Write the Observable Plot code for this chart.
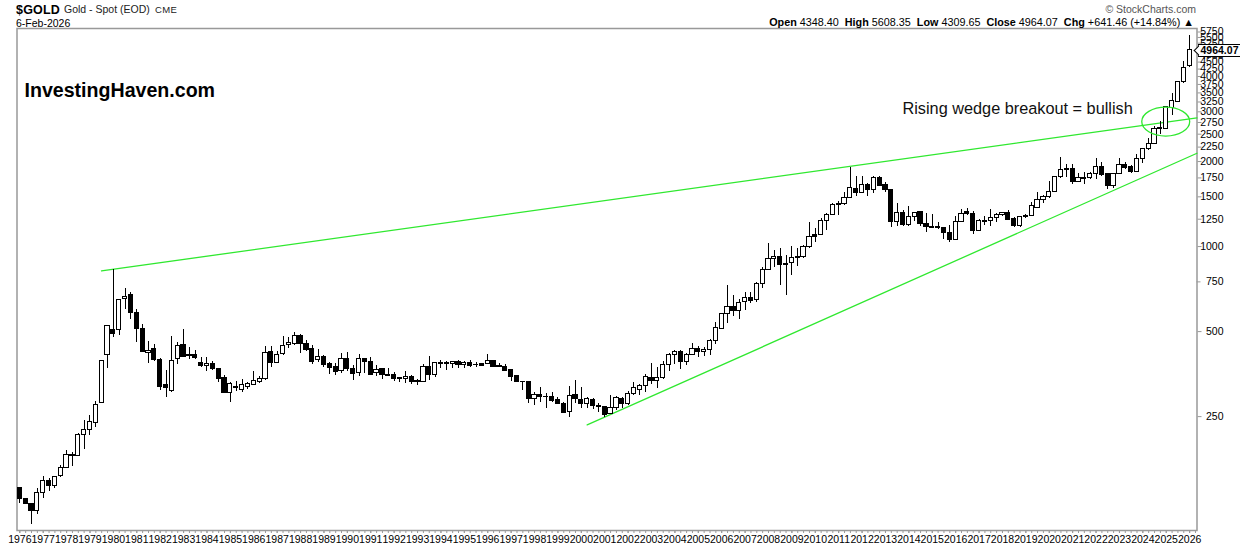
<!DOCTYPE html>
<html>
<head>
<meta charset="utf-8">
<script src="https://cdn.jsdelivr.net/npm/d3@7"></script>
<script src="https://cdn.jsdelivr.net/npm/@observablehq/plot@0.6"></script>
<style>
html,body{margin:0;padding:0;background:#fff;}
#wrap{position:relative;width:1240px;height:546px;overflow:hidden;font-family:"Liberation Sans",Arial,sans-serif;color:#000;}
#wrap svg{position:absolute;left:0;top:0;}
.h{position:absolute;white-space:nowrap;line-height:12px;}
#flag{position:absolute;z-index:1;left:1198px;width:41px;height:11px;line-height:11px;border:1px solid #000;background:#fff;font-size:10.5px;font-weight:bold;text-align:center;}
#flag:before{content:"";position:absolute;z-index:-1;left:-4px;top:2px;width:6px;height:6px;background:#fff;border-left:1px solid #000;border-bottom:1px solid #000;transform:rotate(45deg);}
</style>
</head>
<body>
<div id="wrap"></div>
<script>
const tickerSymbol = "$GOLD";
const opens = [
139.8,127.7,122.6,115.5,134.2,147.9,141.7,153.7,164.5,183.3,
182,215.4,224.3,237.5,279.5,412.4,507,507,652,674.5,
582,512.7,420,434,397,323.8,308.3,400.7,448.7,413.6,
413.6,387,378,384,369,342.7,304,318.5,309.5,319.3,
323,332,339.5,423.7,386,415.6,448.7,452,482.5,452,
434,395.7,406.9,384,376,361.8,400.7,369,356.6,400.7,
391.5,356,369,351,352,342.7,339.5,346.4,335,332.6,
376,350,387,385.8,384,391.5,381.4,388.4,381.7,384.5,
383,393.8,378,375.9,365.9,348.4,332.3,332,287.5,299,
294.3,294.3,287,278,259,297.3,287,277.5,287,273.5,
271.2,256.2,268.4,289.6,276.3,301.6,310,321,342.7,333.5,
342.7,381,412.4,423.7,390.5,413.6,434,422.5,431,463,
512.7,577.7,613,590,635,659,645,738.8,827,903,
917,868,873,922,920,998,1103,1100,1232,1295,
1416,1416,1490,1604,1552,1658,1590,1750,1658,1590,
1223,1317,1190,1274,1322,1206,1174,1171,1164,1118,
1053,1223,1322,1306,1135,1236,1232,1263,1295,1317,
1250,1180,1284,1284,1373,1462,1498,1556,1766,1889,
1889,1690,1749,1742,1810,1920,1800,1640,1810,1946,
1908,1830,2045,2222,2315,2615,2610,3097,3262,3818,
4348.4];
const closes = [
127.3,122.6,115.5,134.2,147.9,141.7,152.4,164.5,182.9,181.4,
215.4,224.3,239.4,275,393.8,523.8,489,647.6,663,580.4,
511,423.7,427.2,396,317.5,315,393.8,444.9,408,411,
402.4,376.8,382.9,367.5,339,304,326,315,323.8,326,
334.5,339,420,386,413.6,444.9,455,482.5,452,429,
389.3,406.9,380,370.7,361,400.7,367.5,353,400.7,389.3,
352,365.9,350,349,340,339.5,345.5,331,331,375,
352,387,384.5,384,390.7,380,387,378.4,381,378.4,
392.5,375.9,374.8,363.8,346.4,332,331.8,287.5,298,293,
293,284.8,276.3,258.5,296,287.5,276.3,289,272,269.6,
254,267.5,291.2,276.3,301.6,314.6,321,345.5,333.5,342.7,
381,413.6,423.7,390.5,412.4,434,422.5,431,463,515,
577.7,608.7,590,632,659,640.5,738.8,827,905.5,917,
859,859,912,910,998,1083,1085,1232,1295,1403,
1400,1490,1613,1552,1654,1590,1750,1640,1590,1223,
1317,1190,1274,1317,1200,1171,1167,1162,1114,1053,
1223,1306,1303,1136,1232,1226,1263,1295,1317,1245,
1180,1274,1270,1393,1462,1498,1562,1766,1871,1871,
1690,1749,1735,1810,1915,1795,1640,1810,1946,1893,
1830,2045,2222,2315,2612,2625,3115,3280,3830,4293,
4964.07];
const highs = [
139.8,127.7,122.6,138.6,153.3,150.4,152.4,167.7,189.4,186.9,
217.7,242,252,282.5,393.8,523.8,827,647.6,710,685,
597,528,461,450,400,364,480,456,508,441,
428,403.5,403.5,391.5,369,348.5,331,332,338,331,
361,346.4,442.5,442.5,423.7,480,475,495,488,464.5,
445,431.6,410,389.3,384,419,421,378,414.6,402,
404.6,379,370,369,358,344,361,349,339,381.7,
408,388.4,394.7,391.5,393,395,393,395,388.4,387,
414.6,395,386,381.7,365.9,348.4,332.6,332,303.5,318,
301.6,304.8,293,280,319.3,335,316.7,293,289.6,277.5,
271.2,296.5,294.3,293,305.8,329.5,326,351.4,384,372,
391.5,418,428,428,419,452,443.7,440,470.6,537,
579.5,727,671,648,689,689,746,841,1022,967,
984,929,1000,984,1006,1214,1159,1253,1306,1416,
1443,1556,1907,1770,1770,1676,1770,1770,1680,1595,
1424,1342,1386,1322,1330,1306,1298,1219,1164,1190,
1277,1350,1361,1330,1243,1277,1350,1306,1325,1342,
1263,1277,1298,1427,1553,1515,1699,1770,2061,1950,
1950,1810,1830,1830,2045,1984,1805,1816,2045,1980,
1935,2112,2228,2420,2660,2771,3115,3475,3840,4508,
5608.35];
const lows = [
123.3,122.6,103.9,112.7,128.4,136,139,152.4,164.5,166.7,
181,191.4,214,229,279.5,370.7,477,483,600,553,
458,423.7,387,392,310,292.7,304,383,404,398,
399,372,362,364,331,304,280,307.5,304,312.5,
323,328,335,374,386,412,436,447.5,418,425,
381.7,389.3,374,352.2,349,356,360,336,346.4,356,
349,346.4,338,345.5,332.6,330,328,325,322,330,
335,344,369.8,363.8,369.8,369.8,369.8,374,372.9,375.9,
381,375.9,373,362,333.5,332,310,279,274,281,
267,281,276.3,255.7,248.6,278.9,267,267,264,258,
248.6,254,262.3,267,273.5,296,296,304,324,315,
337,362,381.7,367.5,380,412.4,405.5,407.9,411,450,
510,534,565,552,595,627,635,711,822,841,
727,671,789,852,910,984,1030,1097,1136,1290,
1290,1403,1486,1503,1552,1503,1537,1631,1552,1167,
1177,1174,1177,1229,1177,1118,1164,1152,1062,1036,
1050,1219,1286,1101,1130,1190,1177,1216,1277,1239,
1171,1171,1260,1280,1362,1416,1480,1552,1735,1760,
1665,1686,1654,1733,1724,1774,1596,1600,1805,1880,
1815,1825,1972,2195,2305,2493,2600,2910,3225,3770,
4309.65];
const priceTicks = [250,500,1000,1250,1500,1750,2000,2250,2500,2750,3000,3250,3500,3750,4000,4250,4500,4750,5000,5250,5500,5750];
const extraPriceTicks = [{price: 750, label: "750"}];
const yearLabels = d3.range(1976, 2027);
const upperTrend = [{q: 13.97, price: 820}, {q: 201.26, price: 2855}];
const lowerTrend = [{q: 97, price: 233.6}, {q: 201.26, price: 2140}];
const breakoutBounds = [{q1: 191.9, q2: 200.1, low: 2452, high: 3105}];
const notes = [{q: 150.9, price: 3085, label: "Rising wedge breakout = bullish"}];
const brand = [{q: 0.8, price: 3568, label: "InvestingHaven.com"}];

const candles = opens.map((o, i) => ({i, open: o, close: closes[i], high: highs[i], low: lows[i]}));
const green = "#2fe82f";
const axisGray = "#999";

const chart = Plot.plot({
  width: 1240,
  height: 546,
  marginLeft: 16.5,
  marginRight: 43.5,
  marginTop: 28,
  marginBottom: 16,
  style: {fontFamily: '"Liberation Sans",Arial,sans-serif', background: "#fff", color: "#000"},
  x: {type: "linear", domain: [-0.48, 201.26]},
  y: {type: "log", domain: [98.8, 5917]},
  marks: [
    Plot.frame({stroke: axisGray, strokeWidth: 1.5}),
    Plot.axisX({
      ticks: d3.range(0, 202), tickSize: 3, tickFormat: () => "", stroke: axisGray, label: null
    }),
    Plot.axisX({
      ticks: yearLabels.map(y => (y - 1976) * 4), tickSize: 3, tickPadding: 2,
      tickFormat: q => String(1976 + q / 4), fontSize: 10.5, stroke: axisGray, fill: "#000", label: null
    }),
    Plot.axisY({
      anchor: "right", ticks: priceTicks, tickSize: 4, tickPadding: 22.5, textAnchor: "end",
      tickFormat: d => String(d), fontSize: 10.5, stroke: axisGray, fill: "#000", label: null
    }),
    Plot.ruleY(extraPriceTicks, {y: "price", x1: () => 201.26, x2: () => 201.94, stroke: axisGray}),
    Plot.text(extraPriceTicks, {
      y: "price", text: "label", frameAnchor: "right", textAnchor: "end", dx: 26.5,
      fontSize: 10.5, fill: "#000"
    }),
    Plot.line(upperTrend, {x: "q", y: "price", stroke: green, strokeWidth: 1.3}),
    Plot.line(lowerTrend, {x: "q", y: "price", stroke: green, strokeWidth: 1.3}),
    Plot.ruleX(candles, {x: "i", y1: "low", y2: "high", stroke: "#000", strokeWidth: 1, shapeRendering: "crispEdges"}),
    Plot.rect(candles, {
      x1: d => d.i - 0.36, x2: d => d.i + 0.36,
      y1: "open", y2: "close",
      fill: d => d.close > d.open ? "#fff" : "#000",
      stroke: "#000", strokeWidth: 1, shapeRendering: "crispEdges"
    }),
    Plot.rect(breakoutBounds, {
      x1: "q1", x2: "q2", y1: "low", y2: "high",
      rx: 24, ry: 14.5, fill: "none", stroke: green, strokeWidth: 1.3
    }),
    Plot.text(notes, {x: "q", y: "price", text: "label", textAnchor: "start", fontSize: 16.3, fill: "#111"}),
    Plot.text(brand, {x: "q", y: "price", text: "label", textAnchor: "start", fontSize: 19.6, fontWeight: "bold", fill: "#000"})
  ]
});

const wrap = document.getElementById("wrap");
wrap.appendChild(chart);

function addText(html, css) {
  const d = document.createElement("div");
  d.className = "h";
  d.innerHTML = html;
  d.style.cssText = css;
  wrap.appendChild(d);
}
addText('<b style="font-size:12.5px;letter-spacing:.2px">' + tickerSymbol + '</b>', "left:16px;top:3px;");
addText('Gold - Spot (EOD)', "left:64px;top:3px;font-size:10.5px;color:#222;");
addText('CME', "left:155px;top:4px;font-size:9.5px;letter-spacing:.4px;color:#222;");
addText('6-Feb-2026', "left:16px;top:17px;font-size:10.5px;");
addText('&copy; StockCharts.com', "right:44px;top:3px;font-size:10.5px;color:#555;");
addText('<b>Open</b> 4348.40 &nbsp;<b>High</b> 5608.35 &nbsp;<b>Low</b> 4309.65 &nbsp;<b>Close</b> 4964.07 &nbsp;<b>Chg</b> +641.46 (+14.84%) &#9650;',
  "right:46px;top:16px;font-size:10.8px;");

const flag = document.createElement("div");
flag.id = "flag";
flag.textContent = "4964.07";
flag.style.top = (chart.scale("y").apply(closes[closes.length - 1]) - 6) + "px";
wrap.appendChild(flag);
</script>
</body>
</html>
